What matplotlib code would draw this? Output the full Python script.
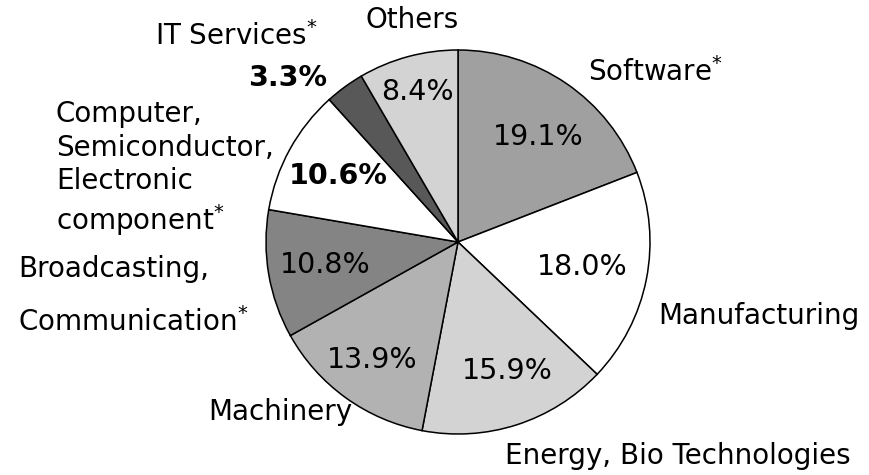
import numpy as np
import matplotlib
matplotlib.use("Agg")
import matplotlib.pyplot as plt

# data, clockwise from 12 o'clock
sectors = ["Software", "Manufacturing", "Energy, Bio Technologies", "Machinery",
           "Broadcasting,\nCommunication", "Computer,\nSemiconductor,\nElectronic\ncomponent",
           "IT Services", "Others"]
shares = [19.1, 18.0, 15.9, 13.9, 10.8, 10.6, 3.3, 8.4]
starred = [True, False, False, False, True, True, True, False]

colors = ["#a0a0a0", "#ffffff", "#d3d3d3", "#b2b2b2", "#848484", "#ffffff", "#585858", "#d3d3d3"]

# percent placement: fraction of radius, angle nudge (deg), weight
pct_dist = [0.69, 0.66, 0.72, 0.76, 0.70, 0.71, 1.23, 0.81]
pct_turn = [-3, 0, 3, 0, 0, 0, 10, 0]
pct_weight = ["normal", "normal", "normal", "normal", "normal", "bold", "bold", "normal"]

# category label anchors in pixels (x, y from top), alignment, line spacing
label_pos = [(588, 72, "left", 1.0), (658, 316, "left", 1.0), (505, 456, "left", 1.0),
             (280, 412, "center", 1.0), (18, 296, "left", 2.0), (56, 169, "left", 1.25),
             (155, 36, "left", 1.0), (412, 20, "center", 1.0)]

W, H = 870, 475
cx, cy, R = 458, 233, 192

plt.rcParams["font.family"] = ["DejaVu Sans"]
fig = plt.figure(figsize=(W / 100, H / 100), dpi=100)
ax = fig.add_axes([0, 0, 1, 1])

wedges, _ = ax.pie(shares, colors=colors, startangle=90, counterclock=False,
                   center=(cx, cy), radius=R,
                   wedgeprops=dict(edgecolor="black", linewidth=1.1))
# pie resets the limits, so set them afterwards
ax.set_xlim(0, W)
ax.set_ylim(0, H)
ax.set_aspect("equal")
ax.axis("off")

for w, val, d, t, wt in zip(wedges, shares, pct_dist, pct_turn, pct_weight):
    mid = np.deg2rad((w.theta1 + w.theta2) / 2 + t)
    x = cx + R * d * np.cos(mid)
    y = cy + R * d * np.sin(mid)
    ax.text(x, y, f"{val:.1f}%", ha="center", va="center", fontsize=20.5, fontweight=wt)

for name, star, (lx, ly, ha, ls) in zip(sectors, starred, label_pos):
    lines = name.split("\n")
    if star:
        lines[-1] = lines[-1] + r"$^{*}$"
    ax.text(lx, H - ly, "\n".join(lines), ha=ha, va="center", fontsize=20,
            linespacing=ls)

fig.savefig("out.png", dpi=100)
